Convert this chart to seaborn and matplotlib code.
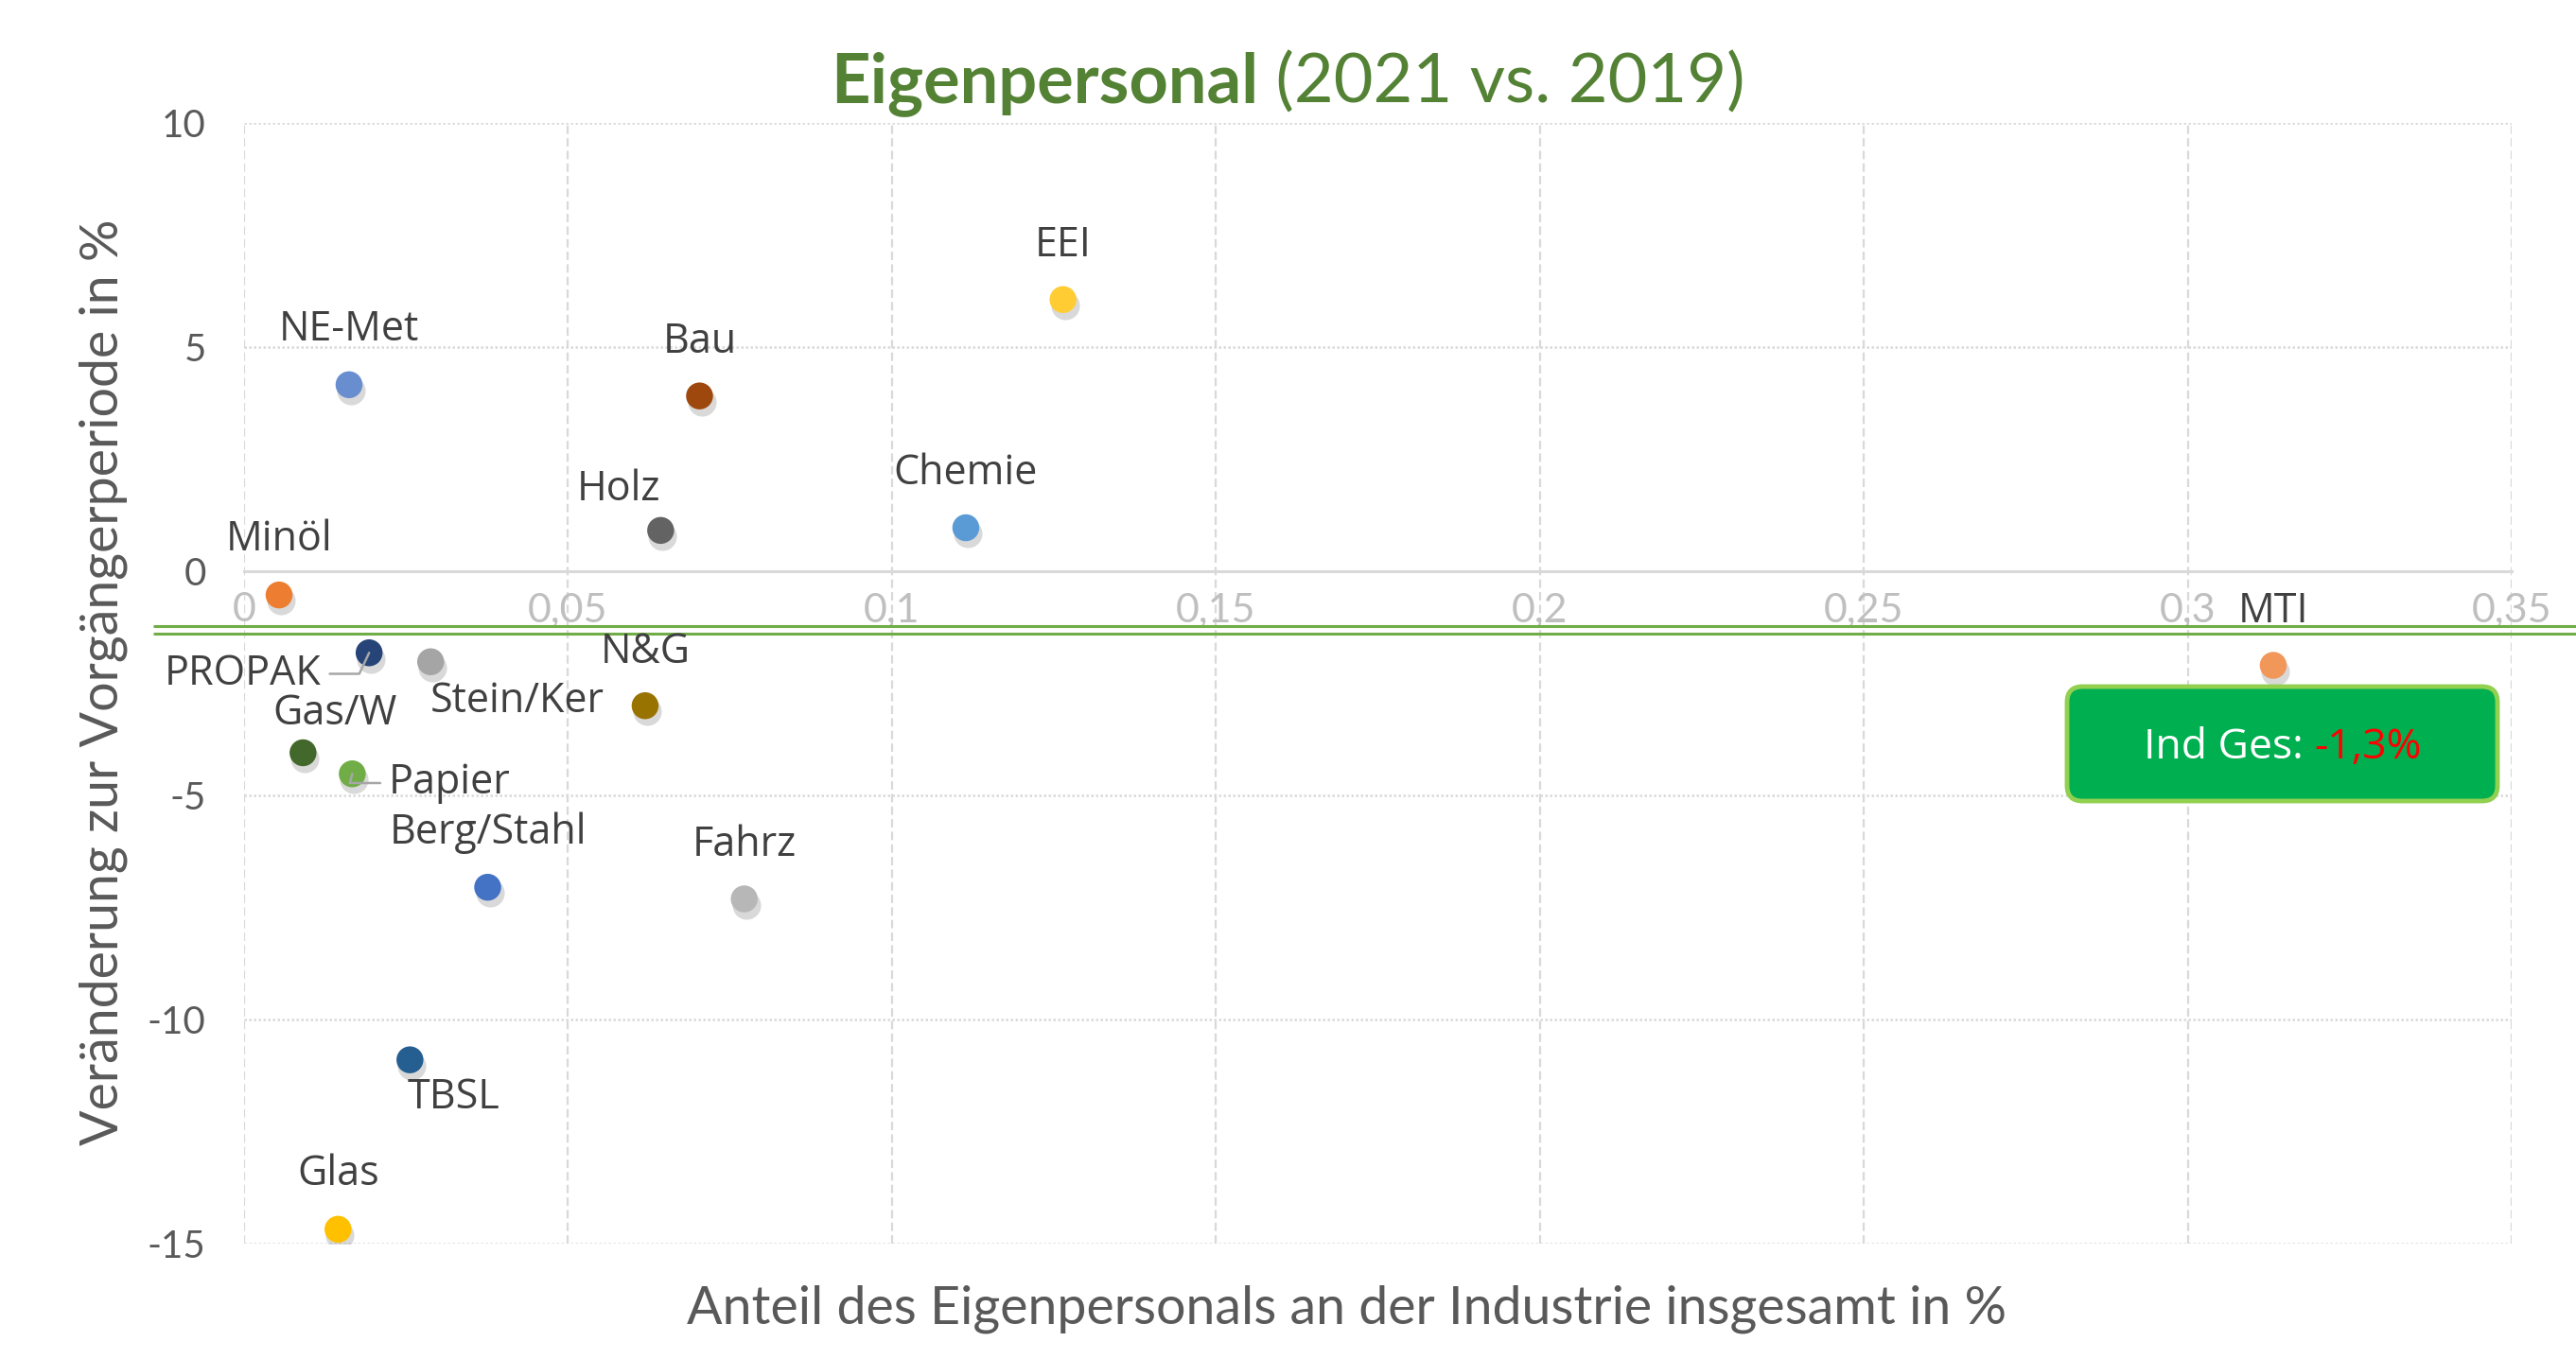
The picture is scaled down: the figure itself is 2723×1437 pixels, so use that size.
import numpy as np
import pandas as pd
import matplotlib
matplotlib.use('Agg')
import matplotlib.pyplot as plt
import seaborn as sns
from matplotlib.patches import FancyBboxPatch
from matplotlib.ticker import FuncFormatter
from matplotlib.transforms import ScaledTranslation

# Werte
branchen = ['Berg/Stahl', 'Minöl', 'Stein/Ker', 'Glas', 'Chemie', 'Papier', 'PROPAK', 'Bau',
            'Holz', 'N&G', 'TBSL', 'Gas/W', 'NE-Met', 'MTI', 'Fahrz', 'EEI']
anteil = [0.0376, 0.0054, 0.0288, 0.0145, 0.1114, 0.0167, 0.0193, 0.0703,
          0.0643, 0.0619, 0.0256, 0.0091, 0.0162, 0.3132, 0.0772, 0.1264]
veraenderung = [-7.05, -0.53, -2.02, -14.68, 0.97, -4.52, -1.82, 3.91,
                0.91, -3.0, -10.9, -4.05, 4.16, -2.1, -7.31, 6.06]
farben = ['#4472C4', '#ED7D31', '#A5A5A5', '#FFC000', '#5B9BD5', '#70AD47', '#264478', '#9E480E',
          '#636363', '#997300', '#255E91', '#43682B', '#698ED0', '#F1975A', '#B7B7B7', '#FFCD33']
ind_ges = -1.3
x_ticks = [0, 0.05, 0.1, 0.15, 0.2, 0.25, 0.3, 0.35]
y_ticks = [-15, -10, -5, 0, 5, 10]

# Beschriftungsversatz in Punkten
label_offset = {
    'NE-Met': (0, 42), 'Bau': (0, 41), 'EEI': (0, 41), 'Holz': (-32, 31), 'Chemie': (0, 41),
    'Minöl': (0, 42), 'PROPAK': (-96, -16), 'Stein/Ker': (66, -30), 'N&G': (0, 41),
    'Gas/W': (24, 30), 'Papier': (74, -7), 'Berg/Stahl': (0, 41), 'Fahrz': (0, 41),
    'TBSL': (33, -29), 'Glas': (0, 42), 'MTI': (0, 41),
}

df = pd.DataFrame({'branche': branchen, 'anteil': anteil, 'veraenderung': veraenderung})

sns.set_style('white')
COND = ['Lato', 'DejaVu Sans']
LAB = ['Open Sans', 'DejaVu Sans']
plt.rcParams['font.family'] = COND
plt.rcParams['axes.unicode_minus'] = False

W, H = 2723, 1437
fig = plt.figure(figsize=(W / 100, H / 100), dpi=100)
ax = fig.add_axes([258 / W, 1 - 1315 / H, (2655 - 258) / W, (1315 - 130) / H])

# Schatten der Punkte
shadow = ax.transData + ScaledTranslation(1.5 / 72, -4.5 / 72, fig.dpi_scale_trans)
ax.scatter(df['anteil'], df['veraenderung'], s=470, color='black', alpha=0.15,
           linewidths=0, transform=shadow, zorder=4)
sns.scatterplot(data=df, x='anteil', y='veraenderung', hue='branche',
                palette=dict(zip(branchen, farben)), s=420, linewidth=0,
                legend=False, ax=ax, zorder=5)

ax.set_xlim(0, 0.35)
ax.set_ylim(-15, 10)
ax.set_xticks(x_ticks)
ax.set_yticks(y_ticks)
ax.xaxis.set_major_formatter(FuncFormatter(lambda v, p: f'{v:g}'.replace('.', ',')))
ax.set_xlabel('')
ax.set_ylabel('')

for s in ['left', 'right', 'top']:
    ax.spines[s].set_visible(False)
ax.spines['bottom'].set_position(('data', 0))
ax.spines['bottom'].set_color('#D9D9D9')
ax.spines['bottom'].set_linewidth(2.2)

ax.tick_params(axis='x', length=0, pad=16, labelsize=31, labelcolor='#BFBFBF')
ax.tick_params(axis='y', length=0, pad=29, labelsize=29, labelcolor='#595959')
ax.set_axisbelow(True)
ax.grid(axis='y', linestyle=(0, (1, 1)), color='#D9D9D9', linewidth=1.8)
ax.grid(axis='x', linestyle=(0, (4, 2)), color='#D9D9D9', linewidth=1.6)

# Doppellinie Industrie gesamt
ytr = ax.get_yaxis_transform()
for off in (2.8, -2.8):
    ax.plot([-0.04, 1.03], [ind_ges, ind_ges], color='#70AD47', lw=2.2, solid_capstyle='butt',
            transform=ytr + ScaledTranslation(0, off / 72, fig.dpi_scale_trans),
            clip_on=False, zorder=3)

# Punktbeschriftungen
for name, xv, yv in zip(branchen, anteil, veraenderung):
    dx, dy = label_offset[name]
    kw = {}
    if name == 'PROPAK':
        kw['arrowprops'] = dict(arrowstyle='-', color='#A6A6A6', lw=1.8, shrinkA=4, shrinkB=0,
                                connectionstyle='angle,angleA=0,angleB=65,rad=0')
    if name == 'Papier':
        kw['arrowprops'] = dict(arrowstyle='-', color='#A6A6A6', lw=1.8, shrinkA=4, shrinkB=0,
                                connectionstyle='angle,angleA=0,angleB=75,rad=0')
    ax.annotate(name, xy=(xv, yv), xytext=(dx, dy), textcoords='offset points',
                ha='center', va='center', fontsize=31, color='#404040', family=LAB,
                zorder=6, **kw)

# Titel und Kasten (zweifarbige Texte mittig ausrichten)
def zweiteilig(xc, yb, teile, **kw):
    objs = [fig.text(xc, yb, t, ha='left', va='baseline', **kw, **st) for t, st in teile]
    fig.canvas.draw()
    r = fig.canvas.get_renderer()
    widths = [o.get_window_extent(r).width / W for o in objs]
    x = xc - sum(widths) / 2
    for o, w in zip(objs, widths):
        o.set_x(x)
        x += w
    return objs

zweiteilig(0.5, 1 - 108 / H,
           [('Eigenpersonal', dict(fontweight='bold')), (' (2021 vs. 2019)', {})],
           fontsize=52, color='#548235')

box = FancyBboxPatch((2185 / W, 1 - 847 / H), (2640 - 2185) / W, (847 - 726) / H,
                     boxstyle='round,pad=0,rounding_size=0.006', mutation_aspect=W / H,
                     transform=fig.transFigure, facecolor='#00B050', edgecolor='#92D050',
                     linewidth=3.5, zorder=7)
fig.add_artist(box)
zweiteilig((2185 + 2640) / 2 / W, 1 - 802 / H,
           [('Ind Ges: ', dict(color='white')), ('-1,3%', dict(color='#FF0000'))],
           fontsize=32, family=LAB, zorder=8)

fig.text(1424 / W, 1 - 1384 / H, 'Anteil des Eigenpersonals an der Industrie insgesamt in %',
         ha='center', va='center', fontsize=40, color='#595959')
fig.text(109 / W, 1 - 721 / H, 'Veränderung zur Vorgängerperiode in %', rotation=90,
         ha='center', va='center', fontsize=40, color='#595959')

fig.savefig('out.png', dpi=100, facecolor='white')
